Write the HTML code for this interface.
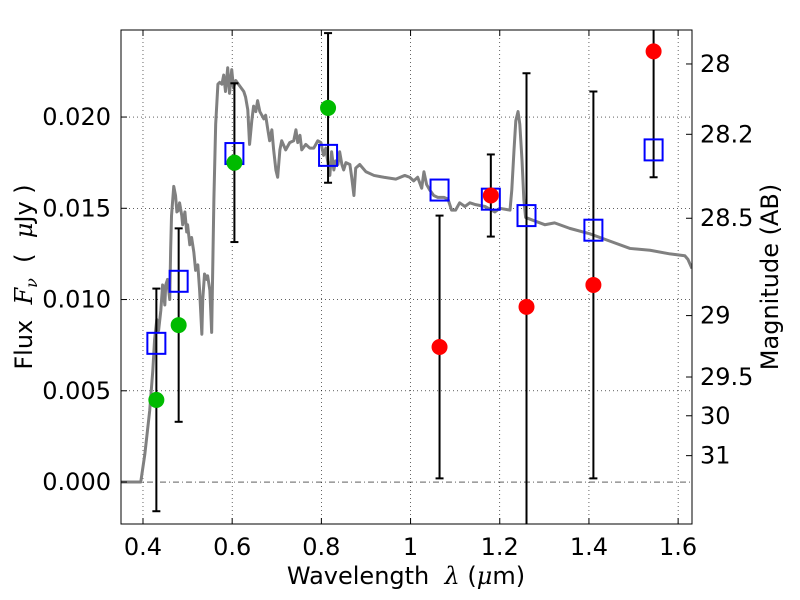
<!DOCTYPE html>
<html><head><meta charset="utf-8"><style>
body{margin:0;background:#fff;}
svg{display:block;font-family:"DejaVu Sans","Liberation Sans",sans-serif;}
</style></head><body>
<svg id="chart" width="800" height="600" viewBox="0 0 800 600" xmlns="http://www.w3.org/2000/svg"></svg>
<script>
const specWave=[0.350,0.395,0.404,0.415,0.422,0.426,0.431,0.435,0.440,0.444,0.449,0.451,0.455,0.460,0.462,0.464,0.469,0.473,0.476,0.480,0.482,0.487,0.489,0.494,0.498,0.500,0.505,0.509,0.514,0.518,0.523,0.527,0.532,0.534,0.538,0.543,0.545,0.550,0.554,0.559,0.563,0.568,0.572,0.577,0.581,0.585,0.590,0.594,0.599,0.603,0.608,0.617,0.626,0.630,0.635,0.639,0.644,0.648,0.653,0.657,0.662,0.671,0.675,0.680,0.684,0.689,0.693,0.698,0.702,0.707,0.711,0.720,0.729,0.738,0.743,0.747,0.752,0.756,0.765,0.774,0.783,0.792,0.799,0.805,0.810,0.814,0.819,0.823,0.828,0.832,0.837,0.841,0.846,0.850,0.855,0.864,0.868,0.873,0.877,0.886,0.900,0.918,0.940,0.967,0.987,0.998,1.007,1.016,1.025,1.030,1.036,1.043,1.052,1.061,1.075,1.084,1.092,1.101,1.110,1.122,1.133,1.146,1.167,1.189,1.200,1.223,1.227,1.232,1.236,1.241,1.245,1.250,1.254,1.258,1.279,1.301,1.323,1.357,1.402,1.447,1.492,1.537,1.582,1.615,1.622,1.631];
const specFlux=[0,0,0.0015,0.0039,0.0061,0.0078,0.0089,0.0083,0.0094,0.0108,0.0097,0.0108,0.0111,0.0100,0.0127,0.0146,0.0162,0.0157,0.0148,0.0149,0.0153,0.0146,0.0141,0.0148,0.0137,0.0141,0.0130,0.0134,0.0126,0.0116,0.0119,0.0105,0.0081,0.0100,0.0114,0.0111,0.0113,0.0105,0.0082,0.0155,0.0196,0.0218,0.0219,0.0218,0.0223,0.0214,0.0227,0.0213,0.0226,0.0216,0.0220,0.0217,0.0214,0.0211,0.0204,0.0185,0.0198,0.0206,0.0203,0.0209,0.0203,0.0199,0.0201,0.0193,0.0187,0.0193,0.0182,0.0171,0.0167,0.0182,0.0187,0.0182,0.0186,0.0187,0.0193,0.0186,0.0190,0.0182,0.0185,0.0183,0.0183,0.0187,0.0186,0.0179,0.0183,0.0176,0.0168,0.0181,0.0171,0.0176,0.0174,0.0181,0.0174,0.0171,0.0175,0.0174,0.0167,0.0157,0.0172,0.0174,0.0170,0.0168,0.0167,0.0166,0.0168,0.0167,0.0165,0.0167,0.0161,0.0170,0.0163,0.0160,0.0157,0.0156,0.0156,0.0155,0.0149,0.0149,0.0153,0.0151,0.0153,0.0152,0.0151,0.0148,0.0150,0.0149,0.0160,0.0182,0.0198,0.0203,0.0196,0.0176,0.0155,0.0145,0.0143,0.0141,0.0142,0.0139,0.0136,0.0132,0.0128,0.0127,0.0125,0.0124,0.0122,0.0117];
const modelWave=[0.43,0.48,0.605,0.815,1.065,1.18,1.26,1.41,1.545];
const modelFlux=[0.0076,0.0110,0.0180,0.0179,0.0160,0.0155,0.0146,0.0138,0.0182];
const obsWave=[0.43,0.48,0.605,0.815,1.065,1.18,1.26,1.41,1.545];
const obsFlux=[0.0045,0.0086,0.0175,0.0205,0.0074,0.0157,0.0096,0.0108,0.0236];
const obsErr=[0.0061,0.0053,0.00435,0.0041,0.0072,0.00225,0.0128,0.0106,0.0069];
const obsColor=['#00bb00','#00bb00','#00bb00','#00bb00','#ff0000','#ff0000','#ff0000','#ff0000','#ff0000'];
const xTicks=[0.4,0.6,0.8,1.0,1.2,1.4,1.6];
const xTickLabels=['0.4','0.6','0.8','1','1.2','1.4','1.6'];
const yTicks=[0,0.005,0.010,0.015,0.020];
const yTickLabels=['0.000','0.005','0.010','0.015','0.020'];
const magTicks=[28,28.2,28.5,29,29.5,30,31];
const magTickLabels=['28','28.2','28.5','29','29.5','30','31'];

const L=121,R=692,T=30,B=524;
const xmin=0.3507,xmax=1.6311,ymin=-0.0023,ymax=0.02477;
const X=v=>L+(v-xmin)/(xmax-xmin)*(R-L);
const Y=v=>B-(v-ymin)/(ymax-ymin)*(B-T);
const magToFlux=m=>Math.pow(10,(23.9-m)/2.5);
const NS='http://www.w3.org/2000/svg';
const svg=document.getElementById('chart');
const FS=24;
function mk(tag,attrs,parent){const e=document.createElementNS(NS,tag);for(const k in attrs)e.setAttribute(k,attrs[k]);(parent||svg).appendChild(e);return e;}

const defs=mk('defs',{});const cp=mk('clipPath',{id:'clip'},defs);mk('rect',{x:L,y:T,width:R-L,height:B-T},cp);

const grid=mk('g',{});


xTicks.forEach(t=>mk('line',{x1:X(t),x2:X(t),y1:T,y2:B,stroke:'#000','stroke-width':0.6,'stroke-dasharray':'1,3'},grid));
yTicks.forEach(t=>{ if(t===0)return; mk('line',{x1:L,x2:R,y1:Y(t),y2:Y(t),stroke:'#000','stroke-width':0.6,'stroke-dasharray':'1,3'},grid);});
const zl=mk('line',{x1:L,x2:R,y1:Y(0),y2:Y(0),stroke:'#000','stroke-width':0.6,'stroke-dasharray':'6,3,1,3'});



const plot=mk('g',{'clip-path':'url(#clip)'});
const sp=mk('polyline',{points:specWave.map((w,i)=>X(w)+','+Y(specFlux[i])).join(' '),fill:'none',stroke:'#808080','stroke-width':3,'stroke-linejoin':'round'},plot);



obsWave.forEach((w,i)=>{
  const g=mk('g',{},plot);
  
  
  const x=X(w),y1=Y(obsFlux[i]-obsErr[i]),y2=Y(obsFlux[i]+obsErr[i]);
  mk('line',{x1:x,x2:x,y1:y1,y2:y2,stroke:'#000','stroke-width':2},g);
  mk('line',{x1:x-4,x2:x+4,y1:y1,y2:y1,stroke:'#000','stroke-width':2},g);
  mk('line',{x1:x-4,x2:x+4,y1:y2,y2:y2,stroke:'#000','stroke-width':2},g);
});
modelWave.forEach((w,i)=>{
  const r=mk('rect',{x:X(w)-9,y:Y(modelFlux[i])-10.5,width:18,height:21,fill:'none',stroke:'#0000ff','stroke-width':2},plot);
  
  
});
obsWave.forEach((w,i)=>{
  const c=mk('circle',{cx:X(w),cy:Y(obsFlux[i]),r:8,fill:obsColor[i]},plot);
  
  
});

const frame=mk('rect',{x:L,y:T,width:R-L,height:B-T,fill:'none',stroke:'#000','stroke-width':1});



xTicks.forEach((t,i)=>{
  const x=X(t);
  mk('line',{x1:x,x2:x,y1:B,y2:B-6,stroke:'#000'});
  mk('line',{x1:x,x2:x,y1:T,y2:T+6,stroke:'#000'});
  const tx=mk('text',{x:x,y:B+31,'font-size':FS,'text-anchor':'middle'});
  tx.textContent=xTickLabels[i];
  
  
});
yTicks.forEach((t,i)=>{
  const y=Y(t);
  mk('line',{x1:L,x2:L+6,y1:y,y2:y,stroke:'#000'});
  const tx=mk('text',{x:L-10,y:y+8,'font-size':FS,'text-anchor':'end'});
  tx.textContent=yTickLabels[i];
  
  
});
magTicks.forEach((m,i)=>{
  const y=Y(magToFlux(m));
  mk('line',{x1:R,x2:R-6,y1:y,y2:y,stroke:'#000'});
  const tx=mk('text',{x:R+8,y:y+8,'font-size':FS,'text-anchor':'start'});
  tx.textContent=magTickLabels[i];
  
  
});
</script>
<svg style="position:absolute;left:0;top:0" width="800" height="600" xmlns="http://www.w3.org/2000/svg">
<text x="406" y="584" font-size="24" text-anchor="middle" font-family="DejaVu Sans, Liberation Sans, sans-serif">Wavelength&#160;&#160;<tspan font-style="italic" font-family="DejaVu Serif, serif">λ</tspan>&#160;(<tspan font-style="italic" font-family="DejaVu Serif, serif">μ</tspan>m)</text>
<text transform="translate(32,277) rotate(-90)" font-size="24" text-anchor="middle" font-family="DejaVu Sans, Liberation Sans, sans-serif">Flux&#160;&#160;<tspan font-style="italic" font-family="DejaVu Serif, serif">F<tspan font-size="16" dy="5">ν</tspan></tspan><tspan dy="-5">&#160;&#160;(&#160;&#160;</tspan><tspan font-style="italic" font-family="DejaVu Serif, serif">μ</tspan>Jy&#160;)</text>
<text transform="translate(778,277) rotate(-90)" font-size="24" text-anchor="middle" font-family="DejaVu Sans, Liberation Sans, sans-serif">Magnitude (AB)</text>
</svg>
</body></html>
